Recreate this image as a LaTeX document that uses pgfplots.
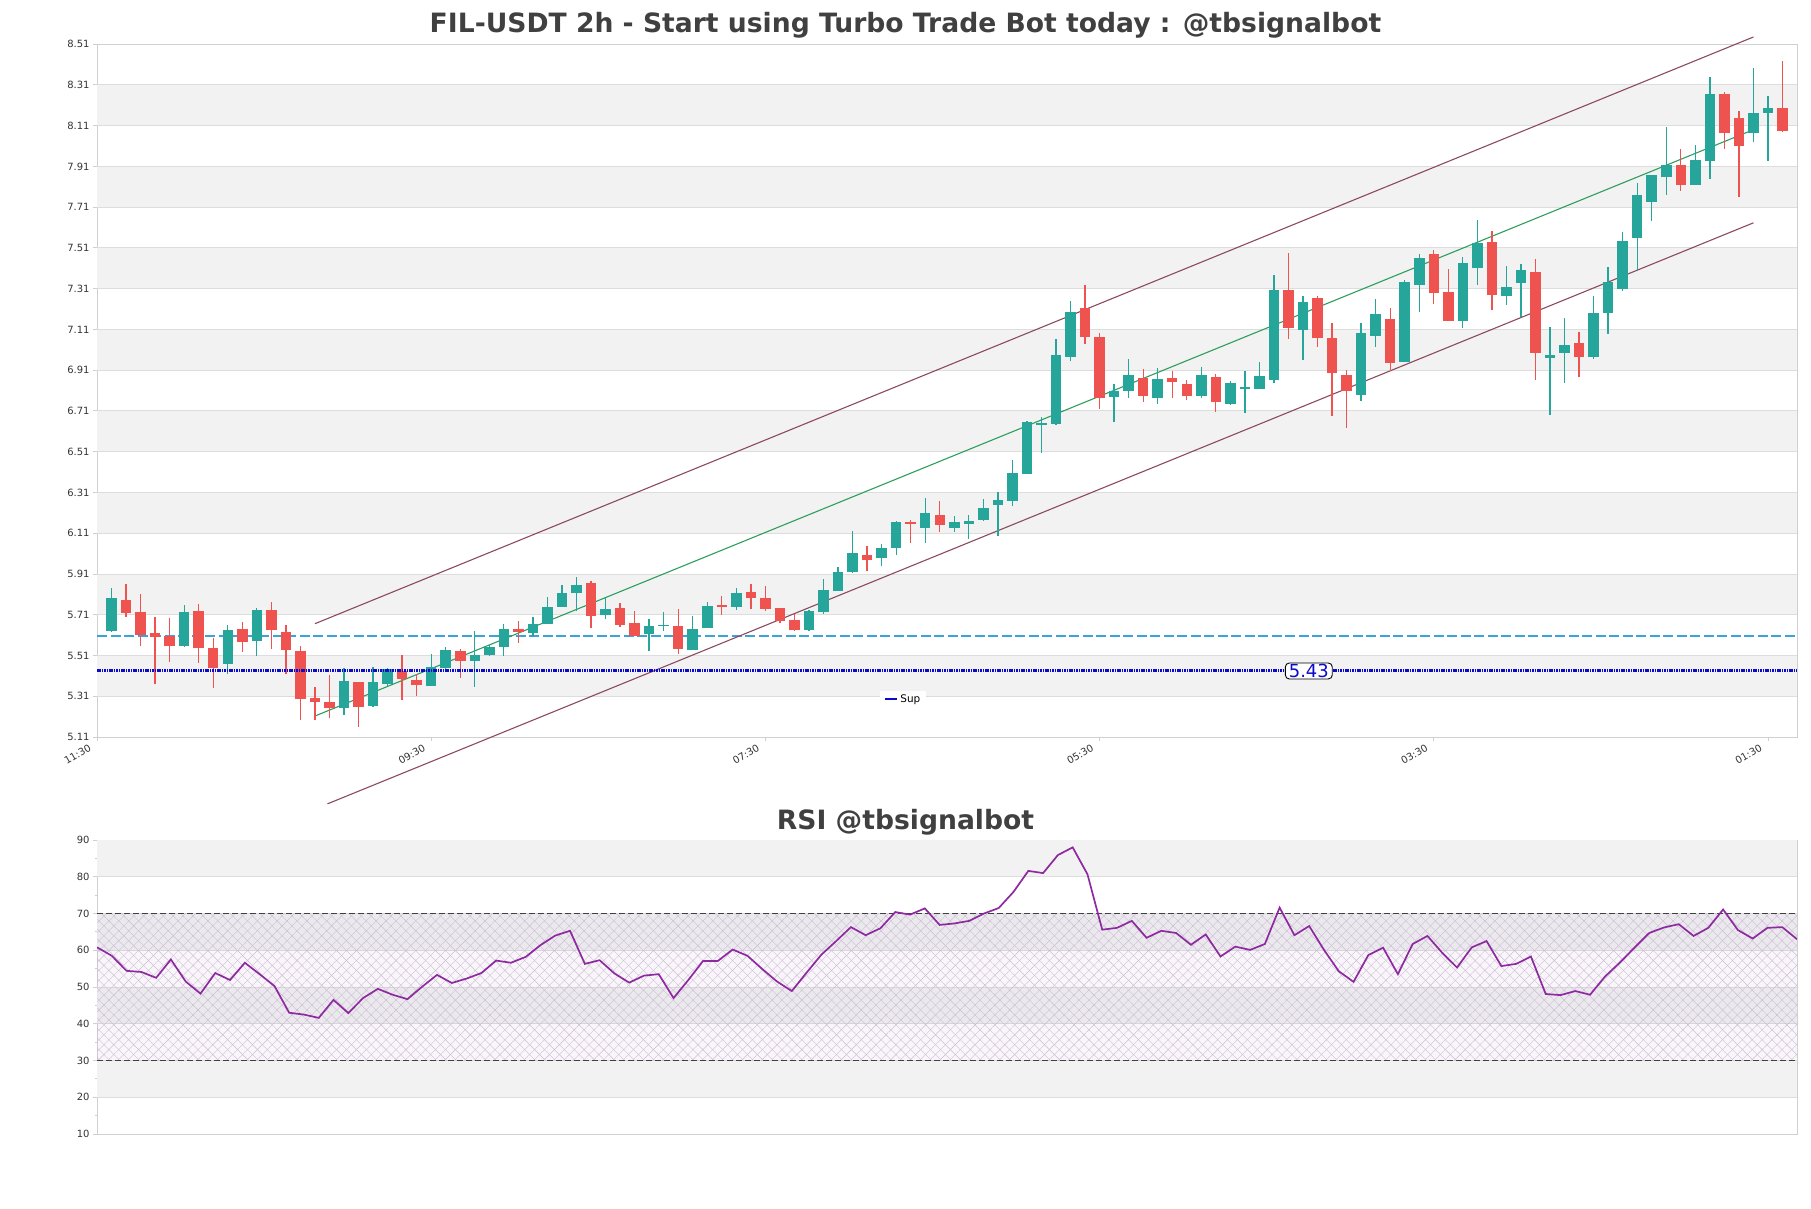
\documentclass[border=0pt]{standalone}
\usepackage{fontspec}
\setmainfont{DejaVu Sans}
\usepackage{pgfplots}
\usepackage{pgfplotstable}
\pgfplotsset{compat=1.18}
\usetikzlibrary{patterns.meta}

\definecolor{upc}{HTML}{26A69A}
\definecolor{dnc}{HTML}{EF5350}
\definecolor{band}{HTML}{F2F2F2}
\definecolor{gridc}{HTML}{DDDDDD}
\definecolor{framec}{HTML}{D0D0D0}
\definecolor{chan}{HTML}{8C4A5E}
\definecolor{midc}{HTML}{2E9E5E}
\definecolor{dashblue}{HTML}{3AA3DA}
\definecolor{supblue}{HTML}{0A0ACC}
\definecolor{rsic}{HTML}{8E2AA0}
\definecolor{titlec}{HTML}{404040}
\definecolor{tickc}{HTML}{333333}
\definecolor{rsifill}{HTML}{9B59B6}
\definecolor{hatchc}{HTML}{C9BFD0}

\pgfplotstableread{
x o h l c
0 5.628 5.843 5.623 5.794
5 5.556 5.759 5.554 5.725
8 5.469 5.661 5.418 5.636
10 5.579 5.744 5.510 5.731
16 5.254 5.448 5.220 5.385
18 5.264 5.454 5.257 5.380
19 5.371 5.448 5.358 5.444
22 5.362 5.517 5.362 5.454
23 5.451 5.551 5.430 5.538
25 5.485 5.631 5.353 5.513
26 5.513 5.560 5.510 5.553
27 5.551 5.667 5.510 5.638
29 5.621 5.697 5.602 5.666
30 5.664 5.799 5.664 5.749
31 5.748 5.854 5.748 5.815
32 5.817 5.897 5.728 5.858
34 5.708 5.792 5.689 5.736
37 5.615 5.687 5.531 5.656
38 5.654 5.725 5.630 5.662
40 5.539 5.705 5.539 5.638
41 5.644 5.774 5.644 5.754
43 5.748 5.843 5.733 5.818
48 5.635 5.735 5.630 5.728
49 5.723 5.885 5.715 5.831
50 5.828 5.946 5.828 5.920
51 5.920 6.123 5.917 6.013
53 5.990 6.058 5.949 6.038
54 6.040 6.171 6.003 6.166
56 6.138 6.284 6.064 6.210
58 6.138 6.195 6.118 6.166
59 6.157 6.200 6.082 6.169
60 6.177 6.279 6.172 6.235
61 6.251 6.313 6.097 6.274
62 6.266 6.471 6.246 6.407
63 6.402 6.660 6.400 6.655
64 6.640 6.682 6.506 6.650
65 6.646 7.064 6.643 6.986
66 6.973 7.250 6.953 7.198
69 6.777 6.844 6.655 6.810
70 6.806 6.966 6.772 6.888
72 6.772 6.922 6.744 6.868
75 6.782 6.927 6.772 6.888
77 6.743 6.858 6.738 6.849
78 6.816 6.907 6.699 6.829
79 6.818 6.950 6.818 6.881
80 6.862 7.377 6.845 7.303
82 7.105 7.274 6.958 7.245
86 6.788 7.144 6.760 7.090
87 7.079 7.258 7.025 7.185
89 6.951 7.351 6.950 7.341
90 7.328 7.478 7.196 7.459
93 7.152 7.464 7.119 7.434
94 7.411 7.645 7.328 7.532
96 7.274 7.420 7.230 7.317
97 7.338 7.429 7.172 7.400
99 6.971 7.120 6.689 6.984
100 6.995 7.164 6.848 7.032
102 6.975 7.272 6.966 7.189
103 7.190 7.418 7.088 7.342
104 7.308 7.586 7.298 7.546
105 7.560 7.831 7.400 7.768
106 7.735 7.870 7.642 7.866
107 7.857 8.101 7.772 7.919
109 7.818 8.017 7.818 7.939
110 7.936 8.351 7.849 8.263
113 8.073 8.393 8.029 8.173
114 8.171 8.256 7.936 8.197
}\upt

\pgfplotstableread{
x o h l c
1 5.784 5.862 5.697 5.721
2 5.725 5.810 5.559 5.613
3 5.621 5.699 5.372 5.603
4 5.607 5.695 5.480 5.559
6 5.730 5.764 5.471 5.548
7 5.548 5.597 5.353 5.449
9 5.641 5.676 5.525 5.577
11 5.735 5.774 5.544 5.636
12 5.626 5.661 5.417 5.535
13 5.533 5.558 5.195 5.299
14 5.302 5.356 5.195 5.284
15 5.282 5.415 5.205 5.254
17 5.380 5.380 5.161 5.259
20 5.435 5.512 5.294 5.397
21 5.390 5.418 5.312 5.366
24 5.533 5.541 5.402 5.485
28 5.638 5.677 5.572 5.625
33 5.864 5.874 5.644 5.703
35 5.741 5.769 5.651 5.658
36 5.671 5.726 5.608 5.608
39 5.656 5.736 5.517 5.541
42 5.759 5.803 5.708 5.748
44 5.820 5.859 5.736 5.792
45 5.794 5.853 5.728 5.738
46 5.741 5.744 5.671 5.679
47 5.682 5.712 5.630 5.635
52 6.003 6.048 5.926 5.980
55 6.166 6.176 6.064 6.153
57 6.200 6.269 6.118 6.148
67 7.216 7.328 7.038 7.075
68 7.074 7.092 6.720 6.772
71 6.873 6.917 6.756 6.782
73 6.873 6.907 6.772 6.850
74 6.844 6.863 6.762 6.782
76 6.878 6.893 6.703 6.752
81 7.303 7.485 7.064 7.118
83 7.265 7.274 7.026 7.066
84 7.068 7.142 6.683 6.894
85 6.887 6.910 6.624 6.810
88 7.160 7.214 6.907 6.947
91 7.478 7.498 7.234 7.289
92 7.292 7.405 7.152 7.152
95 7.537 7.591 7.206 7.279
98 7.390 7.457 6.864 6.995
101 7.042 7.096 6.878 6.975
108 7.919 7.993 7.789 7.818
111 8.263 8.276 7.996 8.073
112 8.148 8.181 7.759 8.009
115 8.197 8.429 8.078 8.083
}\dnt

\pgfplotstableread{
k r
0 60.8
1 58.5
2 54.4
3 54.1
4 52.5
5 57.5
6 51.5
7 48.2
8 53.8
9 51.9
10 56.6
11 53.5
12 50.3
13 43.0
14 42.5
15 41.6
16 46.5
17 42.9
18 47.0
19 49.5
20 47.9
21 46.7
22 50.1
23 53.3
24 51.1
25 52.3
26 53.8
27 57.2
28 56.6
29 58.2
30 61.4
31 64.0
32 65.3
33 56.3
34 57.3
35 53.7
36 51.2
37 53.1
38 53.5
39 47.0
40 51.9
41 57.1
42 57.1
43 60.2
44 58.5
45 54.9
46 51.5
47 48.9
48 53.9
49 58.8
50 62.5
51 66.3
52 64.1
53 66.0
54 70.4
55 69.7
56 71.4
57 66.9
58 67.3
59 68.0
60 70.0
61 71.5
62 75.9
63 81.6
64 81.0
65 85.9
66 88.0
67 80.7
68 65.6
69 66.1
70 68.0
71 63.4
72 65.3
73 64.7
74 61.5
75 64.3
76 58.3
77 61.0
78 60.1
79 61.7
80 71.6
81 64.1
82 66.6
83 60.1
84 54.3
85 51.4
86 58.7
87 60.7
88 53.5
89 61.7
90 63.9
91 59.3
92 55.3
93 60.8
94 62.5
95 55.7
96 56.3
97 58.3
98 48.1
99 47.8
100 48.9
101 47.9
102 52.8
103 56.6
104 60.7
105 64.7
106 66.2
107 67.1
108 63.9
109 66.1
110 71.1
111 65.5
112 63.2
113 66.1
114 66.3
115 63.0
}\rsit

\pgfplotsset{
  wick/.style={draw=none, mark=none, forget plot,
    error bars/.cd, y dir=both, y explicit, error mark=none,
    error bar style={draw=#1, line width=1.3bp, solid}},
  body/.style={draw=none, mark=none, forget plot,
    error bars/.cd, y dir=both, y explicit, error mark=none,
    error bar style={draw=#1, line width=10.5bp, solid}},
}

\begin{document}
\begin{tikzpicture}[x=1bp,y=1bp]
\useasboundingbox (0,0) rectangle (1811,-1208);

\node[anchor=base, font=\fontsize{26.7}{30}\selectfont\bfseries, text=titlec] at (905.5,-32) {FIL-USDT 2h - Start using Turbo Trade Bot today : @tbsignalbot};
\node[anchor=base, font=\fontsize{26.7}{30}\selectfont\bfseries, text=titlec] at (905.5,-829) {RSI @tbsignalbot};

\begin{axis}[
  at={(97bp,-44.1bp)}, anchor=north west,
  width=1700bp, height=692.9bp, scale only axis,
  xmin=-1, xmax=116, ymin=5.11, ymax=8.51,
  clip=false,
  axis line style={framec, line width=0.9bp},
  xtick={-1,22,45,68,91,114},
  xticklabels={11:30,09:30,07:30,05:30,03:30,01:30},
  xticklabel style={rotate=30, anchor=north east, font=\fontsize{10}{12}\selectfont, text=tickc, inner sep=1bp, xshift=-8bp, yshift=3bp},
  ytick={5.11,5.31,5.51,5.71,5.91,6.11,6.31,6.51,6.71,6.91,7.11,7.31,7.51,7.71,7.91,8.11,8.31,8.51},
  yticklabels={5.11,5.31,5.51,5.71,5.91,6.11,6.31,6.51,6.71,6.91,7.11,7.31,7.51,7.71,7.91,8.11,8.31,8.51},
  yticklabel style={font=\fontsize{10}{12}\selectfont, text=tickc},
  xtick pos=bottom, ytick pos=left,
  tick align=outside, major tick length=4bp,
  tick style={framec, line width=0.9bp},
  legend style={at={(rel axis cs:0.4606,0.067)}, anchor=north west, draw=none, fill=white,
    font=\fontsize{10.5}{12}\selectfont, inner xsep=4bp, inner ysep=1.5bp},
  legend image code/.code={\draw[supblue, line width=2.2bp, solid] (0bp,0bp) -- (12bp,0bp);},
]
% background bands
\fill[band] (axis cs:-1,5.31) rectangle (axis cs:116,5.51);
\fill[band] (axis cs:-1,5.71) rectangle (axis cs:116,5.91);
\fill[band] (axis cs:-1,6.11) rectangle (axis cs:116,6.31);
\fill[band] (axis cs:-1,6.51) rectangle (axis cs:116,6.71);
\fill[band] (axis cs:-1,6.91) rectangle (axis cs:116,7.11);
\fill[band] (axis cs:-1,7.31) rectangle (axis cs:116,7.51);
\fill[band] (axis cs:-1,7.71) rectangle (axis cs:116,7.91);
\fill[band] (axis cs:-1,8.11) rectangle (axis cs:116,8.31);
\pgfplotsinvokeforeach{5.31,5.51,5.71,5.91,6.11,6.31,6.51,6.71,6.91,7.11,7.31,7.51,7.71,7.91,8.11,8.31}{
  \draw[gridc, line width=0.9bp] (axis cs:-1,#1) -- (axis cs:116,#1);
}

% horizontal levels
\addplot[dashblue, line width=1.3bp, dash pattern=on 10bp off 3.5bp, forget plot] coordinates {(-1,5.605) (116,5.605)};

% channel
\addplot[chan, line width=1.1bp, forget plot] coordinates {(14.0,5.666) (113.0,8.545)};
\addplot[chan, line width=1.1bp, forget plot] coordinates {(14.86,4.782) (113.0,7.633)};
\addplot[midc, line width=1.1bp, forget plot] coordinates {(14.0,5.213) (113.0,8.09)};

% candles
\addplot[wick=upc] table[x=x, y expr=(\thisrow{h}+\thisrow{l})/2, y error expr=(\thisrow{h}-\thisrow{l})/2] {\upt};
\addplot[wick=dnc] table[x=x, y expr=(\thisrow{h}+\thisrow{l})/2, y error expr=(\thisrow{h}-\thisrow{l})/2] {\dnt};
\addplot[body=upc] table[x=x, y expr=(\thisrow{o}+\thisrow{c})/2, y error expr={max(abs(\thisrow{c}-\thisrow{o})/2,0.004)}] {\upt};
\addplot[body=dnc] table[x=x, y expr=(\thisrow{o}+\thisrow{c})/2, y error expr={max(abs(\thisrow{c}-\thisrow{o})/2,0.004)}] {\dnt};

% support
\addplot[supblue, line width=3bp, dash pattern=on 1.6bp off 0.8bp] coordinates {(-1,5.434) (116,5.434)};
\addlegendentry{Sup}

\node[draw=black, rounded corners=4bp, fill=white, text=supblue, line width=0.9bp,
  font=\fontsize{18}{20}\selectfont, inner xsep=3.5bp, inner ysep=1.2bp] at (axis cs:82.4,5.434) {5.43};
\end{axis}

\begin{axis}[
  at={(97bp,-840bp)}, anchor=north west,
  width=1700bp, height=294bp, scale only axis,
  xmin=0, xmax=115, ymin=10, ymax=90,
  axis line style={framec, line width=0.9bp},
  xtick=\empty,
  ytick={10,20,30,40,50,60,70,80,90},
  yticklabels={10,20,30,40,50,60,70,80,90},
  minor ytick={15,25,35,45,55,65,75,85},
  yticklabel style={font=\fontsize{10}{12}\selectfont, text=tickc},
  ytick pos=left,
  tick align=outside, major tick length=4bp, minor tick length=2.5bp,
  tick style={framec, line width=0.9bp},
]
\fill[band] (axis cs:0,20) rectangle (axis cs:115,30);
\fill[band] (axis cs:0,40) rectangle (axis cs:115,50);
\fill[band] (axis cs:0,60) rectangle (axis cs:115,70);
\fill[band] (axis cs:0,80) rectangle (axis cs:115,90);
\pgfplotsinvokeforeach{20,30,40,50,60,70,80}{
  \draw[gridc, line width=0.9bp] (axis cs:0,#1) -- (axis cs:115,#1);
}
\fill[rsifill, opacity=0.06] (axis cs:0,30) rectangle (axis cs:115,70);
\fill[pattern={Lines[angle=45,distance=7bp,line width=0.4bp]}, pattern color=hatchc] (axis cs:0,30) rectangle (axis cs:115,70);
\fill[pattern={Lines[angle=-45,distance=7bp,line width=0.4bp]}, pattern color=hatchc] (axis cs:0,30) rectangle (axis cs:115,70);
\draw[black!75, line width=1.1bp, dash pattern=on 6bp off 3bp] (axis cs:0,70) -- (axis cs:115,70);
\draw[black!75, line width=1.1bp, dash pattern=on 6bp off 3bp] (axis cs:0,30) -- (axis cs:115,30);
\addplot[rsic, line width=1.7bp] table[x=k, y=r] {\rsit};
\end{axis}
\end{tikzpicture}
\end{document}
